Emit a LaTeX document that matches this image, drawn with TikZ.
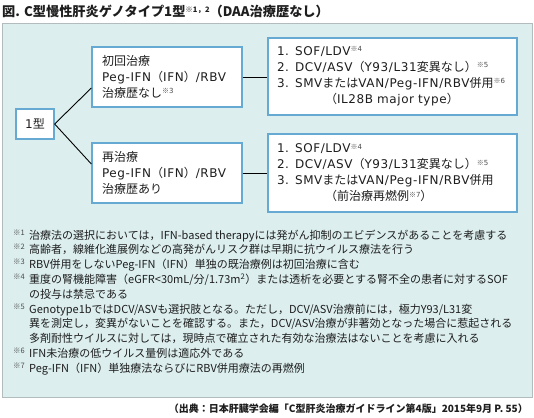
\documentclass[tikz,border=0pt]{standalone}
\usepackage{fontspec}
\setmainfont{Noto Sans CJK JP}
\newfontfamily\cjkfont{Noto Sans CJK JP}
\newfontfamily\latfont{DejaVu Sans}[LetterSpace=5]
\newXeTeXintercharclass\cjkcls
\newcommand\setcjkrange[2]{\count255=#1\relax
  \loop\XeTeXcharclass\count255=\cjkcls\relax\ifnum\count255<#2\advance\count255 by 1\repeat}
\setcjkrange{"3000}{"30FF}
\setcjkrange{"4E00}{"9FFF}
\setcjkrange{"FF00}{"FFEF}
\XeTeXcharclass"203B=\cjkcls
\XeTeXinterchartoks 0 \cjkcls = {\cjkfont}
\XeTeXinterchartoks 4095 \cjkcls = {\cjkfont}
\XeTeXinterchartoks \cjkcls 0 = {\latfont}
\XeTeXinterchartoks 4095 0 = {\latfont}
\newcommand\boxfont{\fontsize{12}{16}\selectfont\XeTeXinterchartokenstate=1 \latfont}
\usetikzlibrary{calc}
\definecolor{panelfill}{HTML}{DCEEEE}
\definecolor{panelline}{HTML}{B3BCBC}
\definecolor{boxline}{HTML}{66AAD4}
\definecolor{txt}{HTML}{1E1E1E}
\definecolor{notec}{HTML}{4A4A4A}
\newcommand{\nmark}[1]{\raisebox{3.8pt}{\fontsize{7}{7}\selectfont\color{notec}※#1}}
\newcommand{\tmark}[1]{\raisebox{4.5pt}{\fontsize{7.5}{7.5}\selectfont ※#1}}
\tikzset{
  panelbox/.style={draw=panelline, fill=panelfill, line width=1pt, inner sep=0pt, anchor=north west},
  tbox/.style={draw=boxline, fill=white, line width=1.3pt, inner ysep=0pt, align=left, text=txt,
    font=\boxfont},
  conn/.style={draw=black, line width=0.9pt},
  fn/.style={anchor=base west, inner sep=0pt, font=\fontsize{11}{11}\selectfont, text=txt},
  fnm/.style={anchor=base west, inner sep=0pt, font=\fontsize{7.5}{7.5}\selectfont, text=notec},
}
\begin{document}
\begin{tikzpicture}[x=1pt,y=-1pt]
\useasboundingbox (0,0) rectangle (534,417);
\node[anchor=base west, inner sep=0pt, text=txt, font=\bfseries\fontsize{13.2}{13.2}\selectfont] (title) at (2,17)
  {図. C型慢性肝炎ゲノタイプ1型\tmark{1，2}（DAA治療歴なし）};
\node[panelbox, minimum width=530.5, minimum height=374] (panel) at (1.5,23) {};

\node[tbox, minimum width=38, minimum height=30, inner xsep=0pt, align=center] (type) at (35,124) {1型};
\node[tbox, minimum width=150, minimum height=60, text width=130, inner xsep=10] (mid1) at (167,77)
  {\mbox{初回治療}\\\mbox{Peg-IFN（IFN）/RBV}\\\mbox{治療歴なし\nmark{3}}};
\node[tbox, minimum width=150, minimum height=60, text width=130, inner xsep=10] (mid2) at (167,173)
  {\mbox{再治療}\\\mbox{Peg-IFN（IFN）/RBV}\\\mbox{治療歴あり}};
\node[tbox, minimum width=249, minimum height=77, text width=231, inner xsep=9] (right1) at (392.5,76.5)
  {\mbox{1. SOF/LDV\nmark{4}}\\\mbox{2. DCV/ASV（Y93/L31変異なし）\nmark{5}}\\\mbox{3. SMVまたはVAN/Peg-IFN/RBV併用\nmark{6}}\\\mbox{\hspace*{48pt}（IL28B major type）}};
\node[tbox, minimum width=249, minimum height=78, text width=231, inner xsep=9] (right2) at (392.5,173)
  {\mbox{1. SOF/LDV\nmark{4}}\\\mbox{2. DCV/ASV（Y93/L31変異なし）\nmark{5}}\\\mbox{3. SMVまたはVAN/Peg-IFN/RBV併用}\\\mbox{\hspace*{48pt}（前治療再燃例\nmark{7}）}};

\draw[conn] (type.east) -- ([yshift=-11pt]mid1.west);
\draw[conn] (type.east) -- ([yshift=9pt]mid2.west);
\draw[conn] (mid1.east) -- (mid1.east -| right1.west);
\draw[conn] (mid2.east) -- (mid2.east -| right2.west);

\node[fnm] (m1) at (13,235) {※1};
\node[fn] (f1) at (29,239) {治療法の選択においては，IFN-based therapyには発がん抑制のエビデンスがあることを考慮する};
\node[fnm] (m2) at (13,249.8) {※2};
\node[fn] (f2) at (29,253.8) {高齢者，線維化進展例などの高発がんリスク群は早期に抗ウイルス療法を行う};
\node[fnm] (m3) at (13,264.6) {※3};
\node[fn] (f3) at (29,268.6) {RBV併用をしないPeg-IFN（IFN）単独の既治療例は初回治療に含む};
\node[fnm] (m4) at (13,279.4) {※4};
\node[fn] (f4) at (29,283.4) {重度の腎機能障害（eGFR<30mL/分/1.73m\textsuperscript{2}）または透析を必要とする腎不全の患者に対するSOF};
\node[fn] (f4b) at (29,298.2) {の投与は禁忌である};
\node[fnm] (m5) at (13,309) {※5};
\node[fn] (f5) at (29,313) {Genotype1bではDCV/ASVも選択肢となる。ただし，DCV/ASV治療前には，極力Y93/L31変};
\node[fn] (f5b) at (29,327.8) {異を測定し，変異がないことを確認する。また，DCV/ASV治療が非著効となった場合に惹起される};
\node[fn] (f5c) at (29,342.6) {多剤耐性ウイルスに対しては，現時点で確立された有効な治療法はないことを考慮に入れる};
\node[fnm] (m6) at (13,353.4) {※6};
\node[fn] (f6) at (29,357.4) {IFN未治療の低ウイルス量例は適応外である};
\node[fnm] (m7) at (13,368.2) {※7};
\node[fn] (f7) at (29,372.2) {Peg-IFN（IFN）単独療法ならびにRBV併用療法の再燃例};

\node[anchor=base east, inner sep=0pt, text=txt, font=\bfseries\fontsize{10}{10}\selectfont] (src) at (528,412)
  {（出典：日本肝臓学会編「C型肝炎治療ガイドライン第4版」2015年9月 P. 55）};
\end{tikzpicture}
\end{document}
